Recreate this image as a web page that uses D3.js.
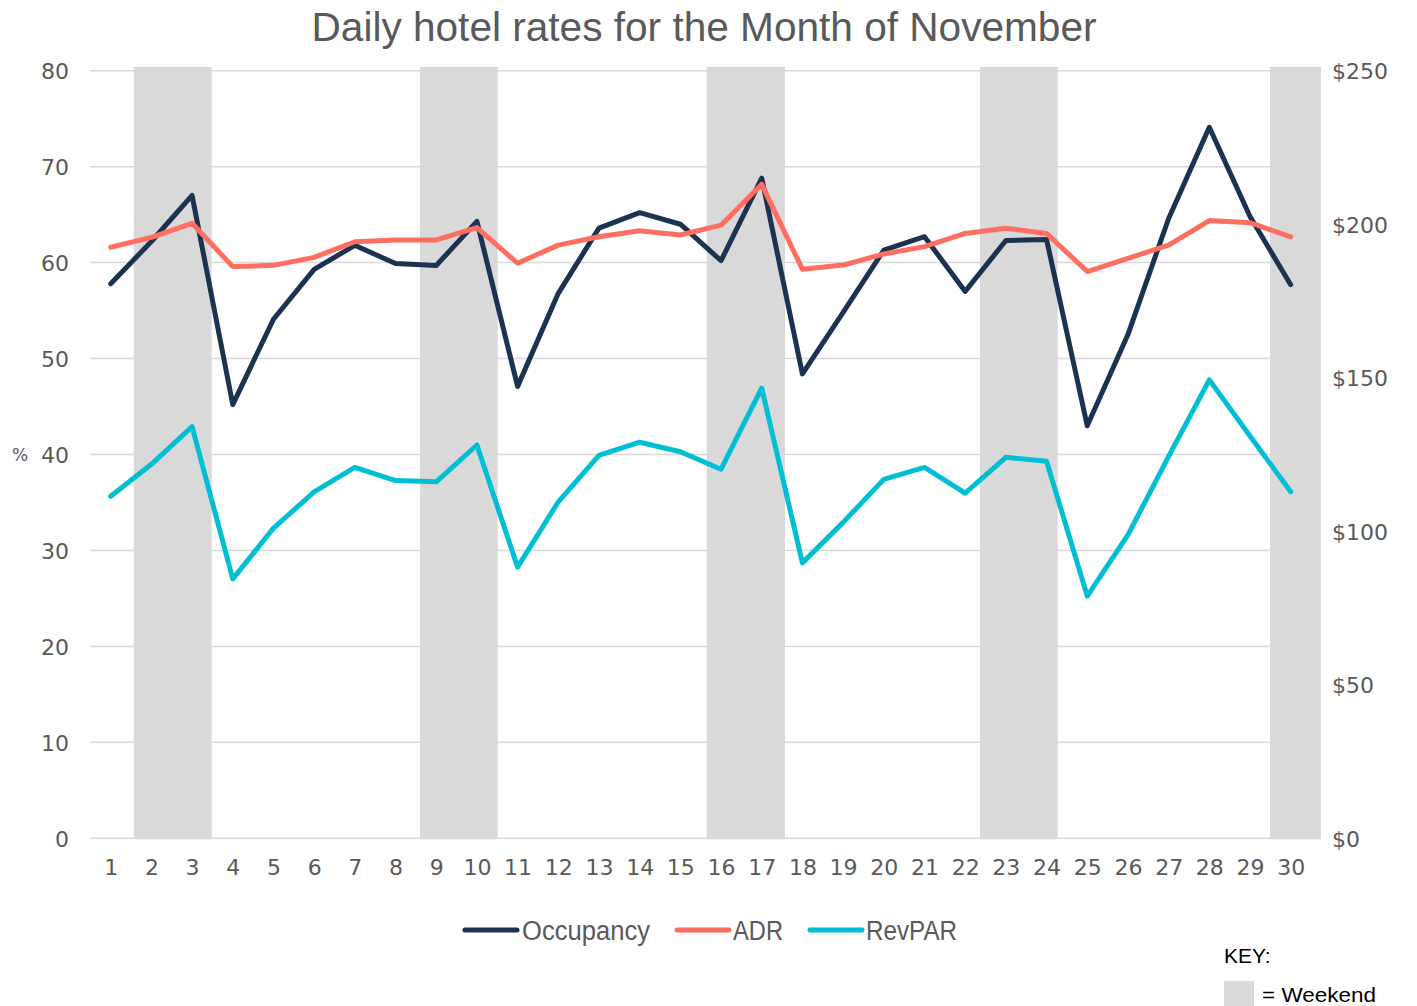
<!DOCTYPE html>
<html>
<head>
<meta charset="utf-8">
<script src="https://cdn.jsdelivr.net/npm/d3@7"></script>
<style>
  body { margin: 0; background: #fff; }
  svg { display: block; }
</style>
</head>
<body>
<svg id="chart" width="1417" height="1006"></svg>
<script>
// Values
const days = d3.range(1, 31);
const occupancy = [57.8, 62.2, 67.0, 45.2, 54.1, 59.3, 61.8, 59.9, 59.7, 64.3,
  47.1, 56.8, 63.6, 65.2, 64.0, 60.2, 68.8, 48.4, 54.8, 61.3,
  62.7, 57.0, 62.3, 62.4, 43.0, 52.5, 64.6, 74.1, 64.8, 57.7];
const adr = [192.5, 195.7, 200.3, 186.2, 186.6, 189.2, 194.3, 194.9, 194.9, 198.9,
  187.3, 193.2, 195.9, 197.9, 196.5, 199.7, 213.0, 185.3, 186.7, 190.3,
  192.7, 197.0, 198.7, 197.0, 184.6, 188.9, 193.2, 201.2, 200.5, 195.9];
const revpar = [111.4, 121.8, 134.1, 84.5, 101.0, 112.8, 120.8, 116.5, 116.1, 128.1,
  88.3, 109.6, 124.7, 129.0, 125.9, 120.2, 146.6, 89.7, 102.9, 116.9,
  120.8, 112.4, 124.1, 122.8, 78.9, 98.8, 124.4, 149.3, 131.0, 112.9];
// weekend shading spans, in day units (start, end)
const weekendStart = [1.565, 8.601, 15.647, 22.364, 29.491];
const weekendEnd = [3.482, 10.511, 17.572, 24.273, 30.745];
const weekendTop = 80.4;
const leftTicks = d3.range(0, 81, 10);
const rightTicks = d3.range(0, 251, 50);

const COLORS = { occ: '#1b3350', adr: '#ff6f61', rev: '#00bfd3', band: '#d9d9d9', grid: '#d9d9d9', text: '#595959' };
const NUM_FONT = 'DejaVu Sans, sans-serif';
const TXT_FONT = 'Liberation Sans Narrow, Liberation Sans, Arial, sans-serif';

const svg = d3.select('#chart');
const plot = { left: 90, right: 1321, top: 70.7, bottom: 838.3 };

const x = d3.scaleLinear().domain([1, 30]).range([110.7, 1290.7]);
const yL = d3.scaleLinear().domain([0, 80]).range([plot.bottom, plot.top]);
const yR = d3.scaleLinear().domain([0, 250]).range([plot.bottom, plot.top]);

// Gridlines
svg.append('g')
  .selectAll('line')
  .data(leftTicks)
  .join('line')
  .attr('x1', plot.left).attr('x2', plot.right)
  .attr('y1', d => yL(d)).attr('y2', d => yL(d))
  .attr('stroke', COLORS.grid)
  .attr('stroke-width', 1.5);

// Weekend bands (drawn over the gridlines, as in the reference)
svg.append('g')
  .selectAll('rect')
  .data(weekendStart.map((s, i) => ({ s, e: weekendEnd[i] })))
  .join('rect')
  .attr('x', d => x(d.s))
  .attr('width', d => x(d.e) - x(d.s))
  .attr('y', yL(weekendTop))
  .attr('height', yL(0) - yL(weekendTop) + 1)
  .attr('fill', COLORS.band);

// Left axis
const leftAxis = svg.append('g')
  .attr('transform', `translate(${plot.left - 21},0)`)
  .call(d3.axisLeft(yL).tickValues(leftTicks).tickSize(0).tickPadding(0));
leftAxis.select('.domain').remove();
leftAxis.selectAll('text')
  .attr('font-family', NUM_FONT).attr('font-size', 22).attr('fill', COLORS.text)
  .attr('dy', '0.36em');

// Right axis
const rightAxis = svg.append('g')
  .attr('transform', `translate(${plot.right + 11},0)`)
  .call(d3.axisRight(yR).tickValues(rightTicks).tickSize(0).tickPadding(0).tickFormat(d => '$' + d));
rightAxis.select('.domain').remove();
rightAxis.selectAll('text')
  .attr('font-family', NUM_FONT).attr('font-size', 22).attr('fill', COLORS.text)
  .attr('dy', '0.36em');

// Bottom axis labels
const bottomAxis = svg.append('g')
  .attr('transform', `translate(0,${plot.bottom + 21})`)
  .call(d3.axisBottom(x).tickValues(days).tickSize(0).tickPadding(0).tickFormat(d3.format('d')));
bottomAxis.select('.domain').remove();
bottomAxis.selectAll('text')
  .attr('font-family', NUM_FONT).attr('font-size', 22).attr('fill', COLORS.text)
  .attr('dy', '0.72em');

// % label
svg.append('text')
  .attr('x', 20).attr('y', yL(40))
  .attr('dy', '0.36em')
  .attr('text-anchor', 'middle')
  .attr('font-family', NUM_FONT).attr('font-size', 17).attr('fill', COLORS.text)
  .text('%');

// Lines
const series = [
  { name: 'Occupancy', values: occupancy, scale: yL, color: COLORS.occ },
  { name: 'ADR', values: adr, scale: yR, color: COLORS.adr },
  { name: 'RevPAR', values: revpar, scale: yR, color: COLORS.rev },
];
series.forEach(s => {
  const line = d3.line().x((d, i) => x(days[i])).y(d => s.scale(d));
  svg.append('path')
    .datum(s.values)
    .attr('d', line)
    .attr('fill', 'none')
    .attr('stroke', s.color)
    .attr('stroke-width', 5)
    .attr('stroke-linejoin', 'round')
    .attr('stroke-linecap', 'round');
});

// Title
svg.append('text')
  .attr('x', 704).attr('y', 41)
  .attr('text-anchor', 'middle')
  .attr('font-family', TXT_FONT).attr('font-size', 41).attr('fill', COLORS.text)
  .attr('textLength', 785).attr('lengthAdjust', 'spacingAndGlyphs')
  .text('Daily hotel rates for the Month of November');

// Legend
const legend = [
  { name: 'Occupancy', color: COLORS.occ, x0: 465, x1: 517, tx: 522, tw: 128 },
  { name: 'ADR', color: COLORS.adr, x0: 677, x1: 729, tx: 733, tw: 50 },
  { name: 'RevPAR', color: COLORS.rev, x0: 810, x1: 862, tx: 866, tw: 91 },
];
const lg = svg.append('g').attr('transform', 'translate(0,930)');
lg.selectAll('line')
  .data(legend)
  .join('line')
  .attr('x1', d => d.x0).attr('x2', d => d.x1)
  .attr('y1', 0).attr('y2', 0)
  .attr('stroke', d => d.color)
  .attr('stroke-width', 5)
  .attr('stroke-linecap', 'round');
lg.selectAll('text')
  .data(legend)
  .join('text')
  .attr('x', d => d.tx).attr('y', 0)
  .attr('dy', '0.36em')
  .attr('font-family', TXT_FONT).attr('font-size', 27).attr('fill', COLORS.text)
  .attr('textLength', d => d.tw).attr('lengthAdjust', 'spacingAndGlyphs')
  .text(d => d.name);

// Key
svg.append('text')
  .attr('x', 1224).attr('y', 963)
  .attr('font-family', 'Liberation Sans, Arial, sans-serif').attr('font-size', 21).attr('fill', '#000')
  .text('KEY:');
svg.append('rect')
  .attr('x', 1224).attr('y', 981).attr('width', 30).attr('height', 25)
  .attr('fill', COLORS.band);
svg.append('text')
  .attr('x', 1262).attr('y', 1002)
  .attr('font-family', 'Liberation Sans, Arial, sans-serif').attr('font-size', 21).attr('fill', '#000')
  .attr('textLength', 114).attr('lengthAdjust', 'spacingAndGlyphs')
  .text('= Weekend');
</script>
</body>
</html>
